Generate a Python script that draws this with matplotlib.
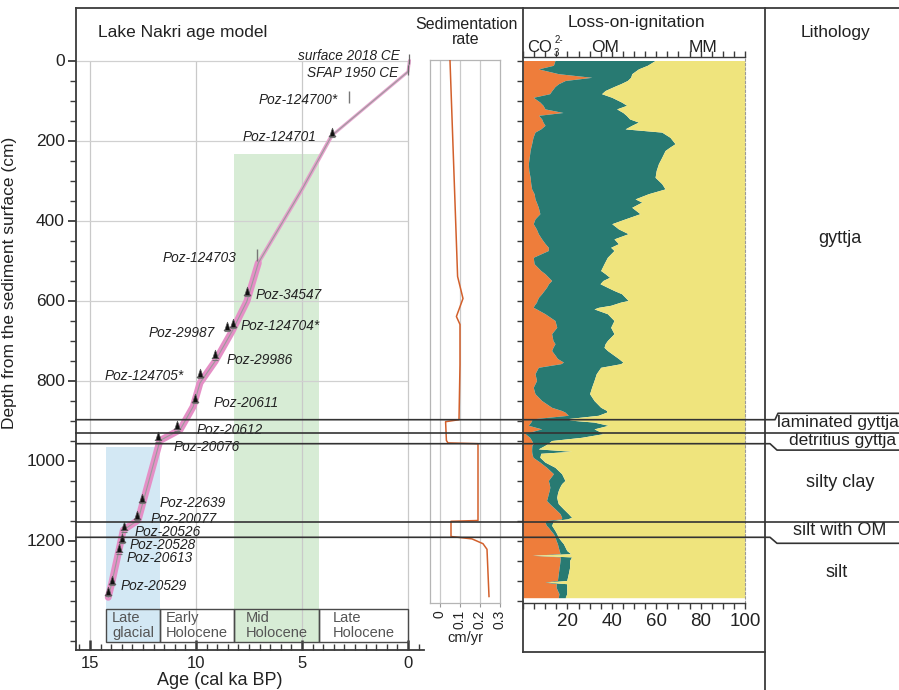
import numpy as np
import matplotlib
matplotlib.use("Agg")
import matplotlib.pyplot as plt
from matplotlib.path import Path
from matplotlib.lines import Line2D
from matplotlib.patches import Rectangle
import matplotlib.transforms as mtransforms
from matplotlib.ticker import FixedLocator, MultipleLocator, FuncFormatter, NullFormatter

plt.rcParams['font.family'] = ['Liberation Sans', 'DejaVu Sans']

# ---------------- chronology ----------------
date_names = ['surface 2018 CE', 'SFAP 1950 CE', 'Poz-124700*', 'Poz-124701', 'Poz-124703',
              'Poz-34547', 'Poz-124704*', 'Poz-29987', 'Poz-29986', 'Poz-124705*',
              'Poz-20611', 'Poz-20612', 'Poz-20076', 'Poz-22639', 'Poz-20077',
              'Poz-20526', 'Poz-20528', 'Poz-20613', 'Poz-20529', '']
date_age = [-0.07, 0.0, 2.78, 3.6, 7.14, 7.6, 8.27, 8.52, 9.1, 9.81,
            10.05, 10.9, 11.78, 12.56, 12.77, 13.38, 13.5, 13.62, 13.98, 14.14]
date_depth = [0, 28, 96, 188, 493, 585, 665, 673, 744, 790,
              853, 922, 949, 1103, 1145, 1174, 1203, 1229, 1308, 1335]
date_kind = ['ref', 'ref', 'out', 'dat', 'out', 'dat', 'dat', 'dat', 'dat', 'dat',
             'dat', 'dat', 'dat', 'dat', 'dat', 'dat', 'dat', 'dat', 'dat', 'dat']

# age-depth model
model_age = [-0.07, 0.0, 3.6, 5.0, 6.12, 7.06, 7.6, 8.3, 9.1, 9.81, 10.13,
             10.75, 11.7, 12.73, 13.43, 13.67, 13.98, 14.14]
model_depth = [0, 28, 188, 322, 422, 506, 602, 677, 752, 806, 865,
               923, 950, 1149, 1174, 1233, 1308, 1342]

# climatic periods (cal ka BP)
period_names = ['Late\nglacial', 'Early\nHolocene', 'Mid\nHolocene', 'Late\nHolocene']
period_start = [14.25, 11.7, 8.2, 4.2]
period_end = [11.7, 8.2, 4.2, 0.0]

# sedimentation rate (cm/yr)
sed_depth = [0, 540, 595, 640, 660, 760, 898, 903, 950, 956, 958, 1150, 1152,
             1190, 1196, 1208, 1222, 1340]
sed_rate = [0.05, 0.088, 0.115, 0.082, 0.10, 0.10, 0.095, 0.028, 0.032, 0.04, 0.19,
            0.19, 0.055, 0.055, 0.16, 0.215, 0.235, 0.245]

# loss-on-ignition (%)
loi_depth = [0, 12, 21, 33, 42, 50, 58, 65, 75, 83, 92, 104, 112, 121, 130, 137, 146, 154,
             162, 171, 179, 192, 208, 217, 225, 242, 258, 275, 292, 308, 321, 333, 346,
             354, 367, 383, 396, 408, 421, 433, 446, 458, 467, 475, 492, 508, 525, 533,
             542, 550, 558, 567, 575, 583, 592, 600, 604, 612, 617, 621, 633, 650, 667,
             683, 700, 708, 717, 725, 737, 745, 754, 758, 767, 783, 800, 817, 833, 850,
             867, 875, 879, 887, 896, 900, 904, 912, 921, 929, 933, 942, 950, 958, 962,
             971, 977, 982, 992, 1004, 1017, 1033, 1050, 1058, 1067, 1075, 1083, 1092,
             1100, 1108, 1117, 1121, 1133, 1142, 1146, 1150, 1154, 1162, 1167, 1175,
             1183, 1192, 1200, 1208, 1217, 1225, 1233, 1237, 1241, 1250, 1267, 1283,
             1300, 1304, 1308, 1317, 1333, 1343]
co3_pct = [14.4, 13.7, 6.9, 16, 31, 19, 16, 14.4, 13, 12, 4.6, 7.6, 9, 9.9, 18, 7, 8.4, 9,
           9.9, 8, 5.4, 4.5, 3.9, 3.5, 3.2, 2.8, 2.4, 2.6, 3.2, 3.5, 3.9, 5, 5.4,
           6, 6.9, 7.6, 5.4, 4.6, 6, 6.9, 8.4, 10, 11.4, 11.4, 4.6, 5, 8, 9.9,
           11.5, 12.9, 11.5, 10.6, 9.5, 8.4, 7, 6.3, 6.1, 5, 4.6, 6, 9.9, 14.4, 15.2,
           12.9, 13.5, 14.4, 13.5, 12.9, 14.5, 15.5, 18.2, 17, 6.9, 5.4, 6.1, 4.6, 5.4, 8.4,
           12.9, 17.4, 18.9, 20.4, 3.9, 3.9, 3.5, 2.4, 8.4, 3, 1, 3, 3.9, 4.6, 4,
           3.9, 3.9, 4, 4.5, 7.6, 10.6, 13.7, 11.4, 11.8, 12.1, 11.8, 11.4, 11,
           10.6, 12, 13.7, 14.5, 16.7, 17.4, 17.4, 10.5, 9.9, 10.5, 11.4, 12.5,
           13.7, 14.5, 14.9, 15.5, 15.9, 16.3, 16.7, 4, 16.8, 16.7, 16.3, 15.9,
           15.5, 9.9, 15, 14.9, 16.2, 15.9]
om_pct = [45.1, 42.3, 45.1, 33, 17.5, 28, 28, 26.6, 24, 23.4, 35.4, 36.8, 37.7, 32.3, 27, 39.5,
          39.6, 43, 39.1, 38, 57.1, 61.7, 64.6, 62.5, 60.8, 59.7, 58.6, 57.4, 56.3, 59,
          60.1, 51.5, 45.1, 47.5, 42.1, 45.1, 40.6, 35.4, 37, 40.5, 32.6, 33, 28.1,
          29.6, 33.4, 31.5, 27, 27.1, 27.5, 23.1, 23.2, 27.4, 31.5, 36, 39, 41.1, 37.9,
          34.5, 29.4, 26, 28.1, 26.6, 24.3, 28.1, 24.5, 22.6, 23, 25.1, 26.5, 27.5,
          26.8, 27, 28.1, 27.6, 25.9, 26.3, 24.6, 23.6, 22.1, 20.3, 18.8, 13.5, 15,
          19.5, 28.5, 36, 23.6, 32, 35, 23.4, 9, 6.4, 5.9, 3, 18, 4, 3.1, 2.3, 3.8,
          3.7, 7.5, 5.6, 4.4, 4.1, 4.1, 4.2, 4.9, 3.9, 3.8, 3.7, 3.7, 4.5, 2.6, 3.2,
          3.6, 2.4, 2.1, 1.9, 1.5, 1.4, 2.1, 2.7, 3.1, 3.4, 4.8, 0.5, 5.1, 4.3, 4.7,
          4.5, 4.2, 0.6, 4.7, 4.8, 3.5, 3.1]

# lithology
unit_bounds = [898, 931, 958, 1154, 1192]
lith_names = ['gyttja', 'laminated gyttja', 'detritius gyttja', 'silty clay', 'silt with OM', 'silt']
lith_depth = [444, 904, 951, 1056, 1176, 1281]

# ---------------- layout helpers (pixel geometry) ----------------
W, H = 899, 690
Y0, PXCM = 60.5, 0.4          # depth 0 row and pixels per cm
X0, PXKA = 408.0, 21.2        # age 0 column and pixels per ka


def box(x0, y0, x1, y1):
    return [x0 / W, 1 - y1 / H, (x1 - x0) / W, (y1 - y0) / H]


def depth_at(y):
    return (y - Y0) / PXCM


def age_at(x):
    return (X0 - x) / PXKA


def fx(x):
    return x / W


def fy(y):
    return 1 - y / H


fig = plt.figure(figsize=(W / 100, H / 100), dpi=100)
fig.patch.set_facecolor('white')
TXT = '#222222'
FRAME = '#3a3a3a'

# ---------------- age model ----------------
ax = fig.add_axes(box(76, 8, 523, 650))
ax.set_xlim(age_at(76), age_at(523))
ax.set_ylim(depth_at(650), depth_at(8))
ax.patch.set_alpha(0)
for s in ['top', 'right']:
    ax.spines[s].set_visible(False)
ax.spines['left'].set_color(FRAME)
ax.spines['left'].set_linewidth(1.3)
ax.spines['bottom'].set_color(FRAME)
ax.spines['bottom'].set_linewidth(1.3)
ax.spines['bottom'].set_bounds(age_at(76), -0.75)

ax.yaxis.set_major_locator(FixedLocator(list(range(0, 1201, 200))))
ax.yaxis.set_minor_locator(FixedLocator(list(range(0, 1451, 50))))
ax.tick_params(axis='y', which='major', direction='out', length=6, width=1.3,
               labelsize=12.5, colors=FRAME, labelcolor=TXT, pad=2)
ax.tick_params(axis='y', which='minor', direction='out', length=4, width=1.0, colors=FRAME)
ax.xaxis.set_major_locator(FixedLocator([15, 10, 5, 0]))
ax.xaxis.set_minor_locator(FixedLocator(list(np.arange(-0.5, 15.51, 0.5))))
ax.tick_params(axis='x', which='major', direction='in', length=7, width=1.8,
               labelsize=12, colors=FRAME, labelcolor=TXT, pad=4)
ax.tick_params(axis='x', which='minor', direction='in', length=4, width=1.0, colors=FRAME)
ax.set_xlabel('Age (cal ka BP)', fontsize=13, color=TXT, labelpad=0)
ax.xaxis.set_label_coords((220 - 76) / (523 - 76), -0.035)
ax.set_ylabel('Depth from the sediment surface (cm)', fontsize=12.5, color=TXT)
ax.yaxis.set_label_coords((17 - 76) / (523 - 76), (650 - 283) / (650 - 8))

# shaded climate periods
ax.add_patch(Rectangle((period_end[0], 966), period_start[0] - period_end[0],
                       1453 - 966, facecolor='#d3e8f4', edgecolor='none', zorder=0.2))
ax.add_patch(Rectangle((period_end[2], 234), period_start[2] - period_end[2],
                       1453 - 234, facecolor='#d7ecd5', edgecolor='none', zorder=0.2))

# grid
ax.vlines([15, 10, 5, 0], 0, depth_at(650), colors='#c9c9c9', lw=0.9, zorder=0.4)
ax.hlines(list(range(0, 801, 200)), age_at(76), 0, colors='#d0d0d0', lw=0.9, zorder=0.4)

# period boxes
for name, a0, a1 in zip(period_names, period_start, period_end):
    ax.add_patch(Rectangle((a1, 1371), a0 - a1, 82, facecolor='none',
                           edgecolor='#4a4a4a', lw=1.0, zorder=2))
    ax.text((a0 + a1) / 2, 1412, name, ha='center', va='center', multialignment='left',
            fontsize=10.5, color='#555555', linespacing=1.05, zorder=3)

# age model band
ma = np.array(model_age)
md = np.array(model_depth)
ax.plot(ma[:3], md[:3], color='#e7a2cf', lw=2.2, solid_capstyle='round', zorder=3)
ax.plot(ma[2:6], md[2:6], color='#e6a0cc', lw=2.8, solid_capstyle='round', zorder=3)
ax.plot(ma[5:], md[5:], color='#e58fc6', lw=5.0, solid_capstyle='round',
        solid_joinstyle='round', zorder=3)
ax.plot(ma, md, color='#9b9b9b', lw=0.8, zorder=3.5)

# dated samples
bell = Path([(-0.42, 0), (-0.28, 0.12), (-0.16, 0.55), (0, 1.0), (0.16, 0.55),
             (0.28, 0.12), (0.42, 0), (-0.42, 0)], closed=True)
kinds = np.array(date_kind)
da = np.array(date_age)
dd = np.array(date_depth)
m = kinds == 'dat'
ax.plot(da[m], dd[m], ls='none', marker=bell, ms=12, mfc='#111111', mec='#555555',
        mew=0.5, zorder=4)
ax.plot(da[m], dd[m] + 4, ls='none', marker='_', ms=5, mec='#777777', mew=0.8, zorder=4)
m = kinds == 'out'
ax.plot(da[m], dd[m] - 6, ls='none', marker='|', ms=9, mec='#777777', mew=1.0, zorder=4)
m = kinds == 'ref'
ax.plot(da[m], dd[m] - 4, ls='none', marker='|', ms=7, mec='#666666', mew=0.9, zorder=4)

# label placement: (offset in ka, offset in cm, alignment)
label_offsets = [(0.45, -11, 'right'), (0.47, 4, 'right'), (0.52, 3, 'right'),
                 (0.74, 3, 'right'), (0.93, 1, 'right'), (-0.43, 1, 'left'),
                 (-0.35, 0, 'left'), (0.58, 8, 'right'), (-0.52, 5, 'left'),
                 (0.79, 0, 'right'), (-0.87, 4, 'left'), (-0.93, 1, 'left'),
                 (-0.74, 17, 'left'), (-0.83, 4, 'left'), (-0.65, 2, 'left'),
                 (-0.5, 6, 'left'), (-0.39, 9, 'left'), (-0.35, 16, 'left'),
                 (-0.4, 5, 'left'), (0, 0, 'left')]
for name, a, d, (dx, dy, ha) in zip(date_names, date_age, date_depth, label_offsets):
    if name:
        ax.text(a + dx, d + dy, name, ha=ha, va='center', fontsize=9.8, style='italic',
                color=TXT, zorder=5)

# ---------------- sedimentation rate ----------------
sax = fig.add_axes(box(430, 60.5, 500, 603))
sax.set_xlim(-0.05, 0.3)
sax.set_ylim(depth_at(603), 0)
sax.patch.set_alpha(0)
for s in sax.spines.values():
    s.set_color('#b5b5b5')
    s.set_linewidth(0.9)
sax.vlines([0, 0.1, 0.2], 0, depth_at(603), colors='#c9c9c9', lw=0.9, zorder=0.5)
sax.plot(sed_rate, sed_depth, color='#d2602c', lw=1.1, zorder=3)
sax.set_xticks([0, 0.1, 0.2, 0.3])
sax.set_xticklabels(['0', '0.1', '0.2', '0.3'], rotation=90)
sax.tick_params(axis='x', length=3, color='#999999', labelsize=10, labelcolor=TXT, pad=2)
sax.set_yticks([])
sax.set_xlabel('cm/yr', fontsize=10.5, color=TXT, labelpad=1)

# ---------------- loss-on-ignition ----------------
lax = fig.add_axes(box(523, 57, 745, 603))
lax.set_xlim(0, 100)
lax.set_ylim(depth_at(603), depth_at(57))
ld = np.array(loi_depth)
c = np.array(co3_pct)
o = c + np.array(om_pct)
lax.fill_betweenx(ld, 0, c, color='#ee7d3b', lw=0, zorder=1)
lax.fill_betweenx(ld, c, o, color='#287a72', lw=0, zorder=1)
lax.fill_betweenx(ld, o, 100, color='#efe47d', lw=0, zorder=1)
lax.spines['left'].set_visible(False)
lax.spines['right'].set_linestyle((0, (2, 2)))
lax.spines['right'].set_color('#9a9a9a')
lax.spines['right'].set_linewidth(0.8)
for s in ['top', 'bottom']:
    lax.spines[s].set_color(FRAME)
    lax.spines[s].set_linewidth(1.0)
lax.xaxis.set_major_locator(MultipleLocator(5))
lax.xaxis.set_major_formatter(FuncFormatter(lambda v, p: f'{v:.0f}' if v > 0 and v % 20 == 0 else ''))
lax.tick_params(axis='x', which='major', direction='out', length=4, width=1.0,
                top=True, labelsize=13.5, colors=FRAME, labelcolor=TXT, pad=3)
lax.yaxis.set_major_locator(FixedLocator(list(range(0, 1351, 50))))
lax.yaxis.set_major_formatter(NullFormatter())
lax.tick_params(axis='y', direction='out', length=4, width=1.0, colors=FRAME)

# ---------------- frame lines ----------------
def frame_line(xs, ys, **kw):
    fig.add_artist(Line2D([fx(x) for x in xs], [fy(y) for y in ys],
                          transform=fig.transFigure, color=FRAME, lw=1.3, **kw))

frame_line([76, 899], [8, 8])
frame_line([523, 523], [8, 652])
frame_line([523, 765], [652, 652])
frame_line([765, 765], [8, 690])

# ---------------- unit boundaries and lithology ----------------
blend = mtransforms.blended_transform_factory(fig.transFigure, ax.transData)
bx0 = fx(76)
bend = {0: (775, 778, 882), 2: (770, 777, 974), 4: (770, 777, 1207)}
for i, d in enumerate(unit_bounds):
    if i in bend:
        xa, xb, d2 = bend[i]
        xs = [bx0, fx(xa), fx(xb), 1.0]
        ys = [d, d, d2, d2]
    else:
        xs, ys = [bx0, 1.0], [d, d]
    fig.add_artist(Line2D(xs, ys, transform=blend, color='#333333', lw=1.2, zorder=6))

lith_x = [840, 838, 843, 840, 840, 837]
lith_size = [13, 12.5, 12.5, 13, 13, 13]
for name, d, x, fs in zip(lith_names, lith_depth, lith_x, lith_size):
    ax.text(fx(x), d, name, transform=blend, ha='center', va='center',
            fontsize=fs, color=TXT, clip_on=False)

# ---------------- titles ----------------
fig.text(fx(98), fy(33), 'Lake Nakri age model', ha='left', va='center', fontsize=12.5, color=TXT)
fig.text(fx(466), fy(32), 'Sedimentation\nrate', ha='center', va='center', fontsize=11.5,
         color=TXT, linespacing=1.0)
fig.text(fx(636), fy(22), 'Loss-on-ignitation', ha='center', va='center', fontsize=12.5, color=TXT)
fig.text(fx(527), fy(47), 'CO', ha='left', va='center', fontsize=12, color=TXT)
fig.text(fx(554), fy(53), '3', ha='left', va='center', fontsize=7, color=TXT)
fig.text(fx(555), fy(40), '2-', ha='left', va='center', fontsize=7, color=TXT)
fig.text(fx(605), fy(47), 'OM', ha='center', va='center', fontsize=12.5, color=TXT)
fig.text(fx(703), fy(47), 'MM', ha='center', va='center', fontsize=12.5, color=TXT)
fig.text(fx(835), fy(32), 'Lithology', ha='center', va='center', fontsize=12.5, color=TXT)

fig.savefig('out.png', dpi=100, facecolor='white')
